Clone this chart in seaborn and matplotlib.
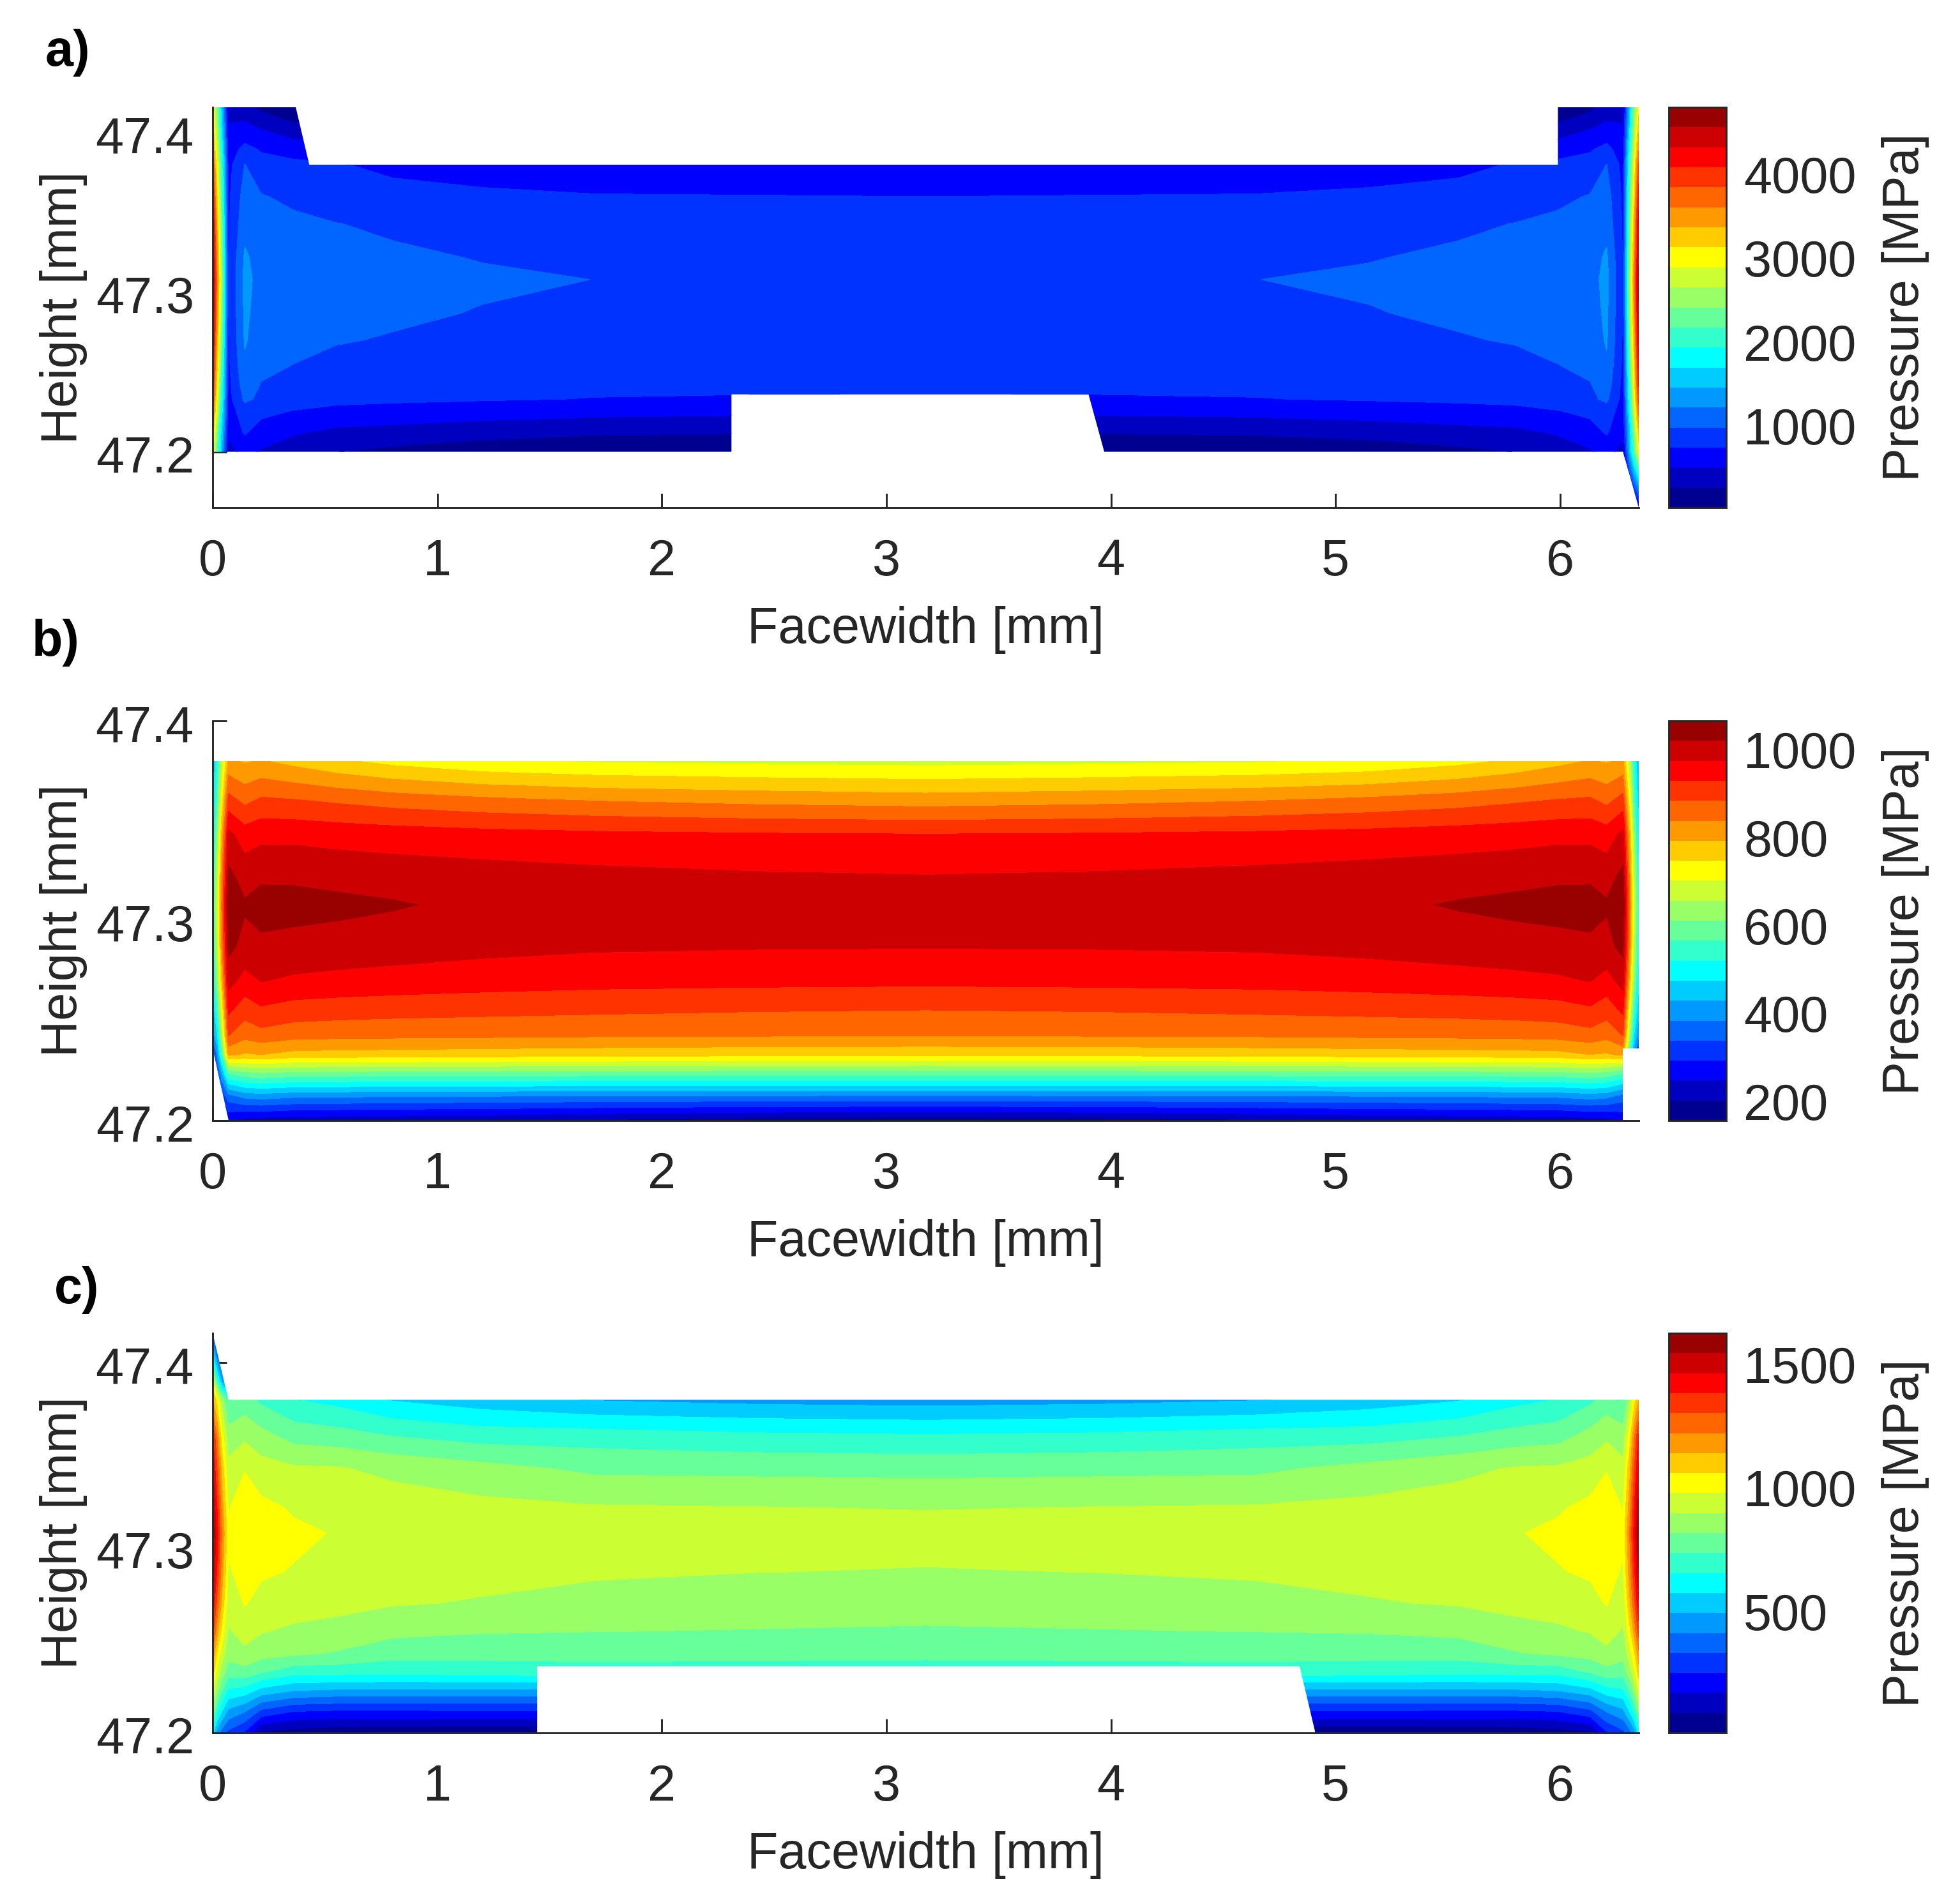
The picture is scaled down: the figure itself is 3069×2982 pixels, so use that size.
import matplotlib
matplotlib.use('Agg')

import numpy as np
import matplotlib.pyplot as plt
import seaborn as sns
from matplotlib.colors import ListedColormap
from matplotlib.patches import Polygon
from matplotlib.transforms import ScaledTranslation

W, H = 3069, 2982

# jet, 20 steps, as on the colorbars
jet_colors = ['#000090', '#0000c0', '#0000ff', '#0033ff', '#0066ff', '#0099ff', '#00ccff',
              '#00ffff', '#33ffcc', '#66ff99', '#99ff66', '#ccff33', '#ffff00', '#ffcc00',
              '#ff9900', '#ff6600', '#ff3300', '#ff0000', '#cc0000', '#990000']

# half of the face, other half is mirrored (tooth is close to symmetric)
stations = [0, 0.02, 0.04, 0.07, 0.143, 0.216, 0.36, 0.55, 0.8, 1.2, 1.7, 2.4, 3.175]
face_width = 6.35

heights_a = [47.165, 47.2, 47.212, 47.224, 47.233, 47.243, 47.255, 47.27, 47.287, 47.308,
             47.322, 47.343, 47.36, 47.38, 47.39, 47.403, 47.416]
heights_b = [47.2, 47.212, 47.224, 47.233, 47.243, 47.255, 47.27, 47.287, 47.308,
             47.322, 47.343, 47.36, 47.38]
heights_c = [47.2, 47.212, 47.224, 47.233, 47.243, 47.255, 47.27, 47.287, 47.308,
             47.322, 47.343, 47.36, 47.38, 47.39, 47.403, 47.416]

# pressure [MPa], one list per station
pressure_a = [
    [372, 2954, 3252, 3649, 3897, 4096, 4244, 4393, 4493, 4592, 4493, 4393, 4195, 3847, 3549, 3252, 3003],
    [223, 2159, 2358, 2656, 2854, 3003, 3152, 3301, 3450, 3549, 3450, 3301, 3103, 2904, 2705, 2507, 2358],
    [74, 1464, 1564, 1762, 1911, 2010, 2159, 2308, 2408, 2507, 2408, 2308, 2159, 2010, 1862, 1663, 1514],
    [35, 392, 531, 591, 630, 650, 670, 685, 695, 700, 695, 685, 670, 640, 591, 491, 422],
    [35, 556, 740, 829, 998, 1087, 1157, 1216, 1236, 1256, 1226, 1117, 1057, 958, 779, 531, 362],
    [35, 452, 606, 759, 908, 948, 1008, 1057, 1097, 1117, 1097, 1027, 968, 797, 690, 462, 169],
    [35, 342, 501, 685, 819, 888, 953, 1008, 1057, 1087, 1067, 998, 908, 769, 610, 308, 35],
    [35, 243, 417, 630, 779, 829, 898, 968, 1018, 1047, 1032, 958, 829, 730, 620, 323, 35],
    [35, 179, 392, 600, 759, 804, 869, 938, 988, 1013, 988, 918, 779, 670, 620, 323, 35],
    [35, 84, 332, 561, 735, 784, 834, 893, 943, 983, 943, 864, 745, 640, 620, 323, 35],
    [35, 25, 276, 524, 708, 769, 819, 874, 918, 952, 918, 839, 725, 610, 610, 323, 35],
    [35, 15, 253, 501, 695, 764, 804, 854, 900, 928, 898, 824, 720, 612, 610, 323, 35],
    [35, 5, 243, 491, 690, 759, 799, 849, 893, 918, 893, 819, 715, 610, 610, 323, 35],
]

pressure_b = [
    [160, 180, 220, 270, 400, 430, 480, 520, 540, 520, 480, 450, 420],
    [180, 230, 310, 390, 470, 540, 610, 650, 665, 650, 610, 560, 520],
    [220, 300, 420, 540, 640, 700, 770, 820, 840, 820, 780, 720, 660],
    [250, 360, 570, 800, 885, 935, 990, 1030, 1058, 1030, 985, 900, 800],
    [225, 392, 600, 785, 852, 900, 955, 1004, 1023, 1000, 949, 870, 785],
    [222, 400, 610, 790, 866, 918, 974, 1008, 1036, 1010, 960, 890, 793],
    [215, 388, 600, 775, 855, 905, 965, 1003, 1034, 1010, 960, 885, 775],
    [212, 385, 598, 772, 852, 900, 960, 998, 1030, 1003, 955, 875, 752],
    [208, 382, 596, 770, 850, 896, 955, 993, 1022, 998, 950, 862, 730],
    [204, 379, 594, 766, 848, 892, 948, 985, 1006, 992, 943, 848, 706],
    [192, 376, 592, 762, 845, 888, 942, 978, 1004, 985, 937, 835, 694],
    [178, 373, 591, 757, 843, 883, 939, 975, 1003, 978, 932, 824, 688],
    [170, 372, 590, 755, 841, 880, 937, 974, 1002, 974, 929, 816, 683],
]

pressure_c = [
    [600, 830, 1000, 1100, 1200, 1340, 1450, 1540, 1610, 1560, 1480, 1400, 1150, 990, 620, 350],
    [450, 680, 860, 960, 1050, 1170, 1280, 1370, 1420, 1380, 1300, 1220, 1030, 700, 400, 250],
    [380, 590, 760, 870, 950, 1040, 1130, 1190, 1230, 1190, 1120, 1030, 880, 500, 300, 200],
    [310, 480, 660, 780, 845, 890, 930, 970, 1000, 975, 920, 860, 730, 300, 200, 150],
    [240, 425, 640, 790, 880, 933, 985, 1010, 1030, 1020, 975, 885, 770, 600, 200, 150],
    [75, 320, 570, 750, 850, 905, 955, 990, 1015, 1000, 930, 850, 720, 600, 200, 150],
    [50, 260, 520, 690, 835, 885, 935, 975, 995, 970, 910, 790, 660, 600, 200, 150],
    [30, 250, 505, 690, 812, 870, 925, 950, 975, 950, 905, 775, 630, 600, 200, 150],
    [22, 250, 500, 685, 770, 840, 905, 935, 960, 935, 880, 740, 570, 570, 200, 150],
    [20, 252, 500, 695, 765, 825, 893, 920, 945, 920, 845, 705, 530, 530, 200, 150],
    [20, 250, 500, 710, 760, 820, 870, 910, 935, 905, 800, 700, 490, 490, 200, 150],
    [25, 250, 505, 712, 755, 815, 855, 900, 930, 900, 795, 680, 470, 470, 200, 150],
    [30, 252, 505, 715, 750, 810, 850, 895, 925, 895, 790, 670, 460, 460, 200, 150],
]

# outline of the contact patch, facewidth / height
outline_a_x = [0, 0, 0.37, 0.43, 5.99, 5.99, 6.35, 6.35, 6.28, 3.97, 3.90, 2.31, 2.31]
outline_a_y = [47.2, 47.416, 47.416, 47.38, 47.38, 47.416, 47.416, 47.165, 47.2, 47.2, 47.236, 47.236, 47.2]
outline_b_x = [0, 0, 6.35, 6.35, 6.28, 6.28, 0.07]
outline_b_y = [47.236, 47.38, 47.38, 47.236, 47.236, 47.2, 47.2]
outline_c_x = [0, 0, 0.07, 6.35, 6.35, 4.91, 4.84, 1.445, 1.445]
outline_c_y = [47.2, 47.416, 47.38, 47.38, 47.2, 47.2, 47.236, 47.236, 47.2]

levels_a = np.linspace(0, 4766, 21)
levels_b = np.linspace(153.6, 1063, 21)
levels_c = np.linspace(10, 1626, 21)

ylim_a = (47.165, 47.416)
ylim_b = (47.2, 47.4)
ylim_c = (47.2, 47.416)

ticks_a = [1000, 2000, 3000, 4000]
ticks_b = [200, 400, 600, 800, 1000]
ticks_c = [500, 1000, 1500]

sns.set_theme(style='ticks')
plt.rcParams['font.family'] = ['Liberation Sans', 'DejaVu Sans']
FS = 19
TEXT = '#262626'

jet = ListedColormap(sns.color_palette(jet_colors, len(jet_colors)))


def px_axes(fig, left, top, right, bottom):
    return fig.add_axes([left / W, 1 - bottom / H, (right - left) / W, (bottom - top) / H])


def nudge_down(fig, labels, px):
    # labels sit a touch under their ticks in the original
    for lab in labels:
        lab.set_transform(lab.get_transform() + ScaledTranslation(0, -px / 300, fig.dpi_scale_trans))


def draw_panel(fig, top, bottom, heights, pressure, levels, ylim, out_x, out_y, cticks, cshift):
    ax = px_axes(fig, 333, top, 2566, bottom)
    cax = px_axes(fig, 2613, top, 2703, bottom)

    half = np.array(pressure, dtype=float).T
    z = np.hstack([half, half[:, -2::-1]])
    st = np.array(stations)
    x = np.concatenate([st, face_width - st[-2::-1]])

    cf = ax.contourf(x, heights, z, levels=levels, cmap=jet, extend='neither')
    patch = Polygon(np.column_stack([out_x, out_y]), closed=True, transform=ax.transData,
                    facecolor='none', edgecolor='none')
    ax.add_patch(patch)
    cf.set_clip_path(patch)

    ax.set_xlim(0, face_width)
    ax.set_ylim(*ylim)
    ax.set_xticks([0, 1, 2, 3, 4, 5, 6])
    ax.set_yticks([47.2, 47.3, 47.4])
    ax.set_yticklabels(['47.2', '47.3', '47.4'])
    ax.tick_params(direction='in', length=5.3, width=0.7, colors=TEXT, labelsize=FS, pad=7)
    ax.tick_params(axis='x', pad=11.5)
    ax.set_xlabel('Facewidth [mm]', fontsize=FS, color=TEXT, labelpad=7.5)
    ax.set_ylabel('Height [mm]', fontsize=FS, color=TEXT, labelpad=3)
    nudge_down(fig, ax.get_yticklabels(), 3)
    sns.despine(ax=ax)
    for s in ['left', 'bottom']:
        ax.spines[s].set_color(TEXT)
        ax.spines[s].set_linewidth(0.7)

    cb = fig.colorbar(cf, cax=cax, ticks=cticks)
    cb.outline.set_edgecolor(TEXT)
    cb.outline.set_linewidth(0.7)
    cb.ax.tick_params(direction='in', length=2, width=0.7, colors=TEXT, labelsize=FS, pad=6.5)
    nudge_down(fig, cb.ax.get_yticklabels(), cshift)
    cb.set_label('Pressure [MPa]', fontsize=FS, color=TEXT, labelpad=9.5)
    return ax


fig = plt.figure(figsize=(W / 300, H / 300), dpi=300)

draw_panel(fig, 168, 795, heights_a, pressure_a, levels_a, ylim_a, outline_a_x, outline_a_y, ticks_a, 4)
draw_panel(fig, 1129, 1755, heights_b, pressure_b, levels_b, ylim_b, outline_b_x, outline_b_y, ticks_b, 2)
draw_panel(fig, 2088, 2714, heights_c, pressure_c, levels_c, ylim_c, outline_c_x, outline_c_y, ticks_c, 0)

fig.text(71 / W, 1 - 82 / H, 'a)', fontsize=19, fontweight='bold', color='black', va='center')
fig.text(50 / W, 1 - 1007 / H, 'b)', fontsize=19, fontweight='bold', color='black', va='center')
fig.text(85 / W, 1 - 2020 / H, 'c)', fontsize=19, fontweight='bold', color='black', va='center')

fig.savefig('out.png', dpi=300)
plt.close(fig)
